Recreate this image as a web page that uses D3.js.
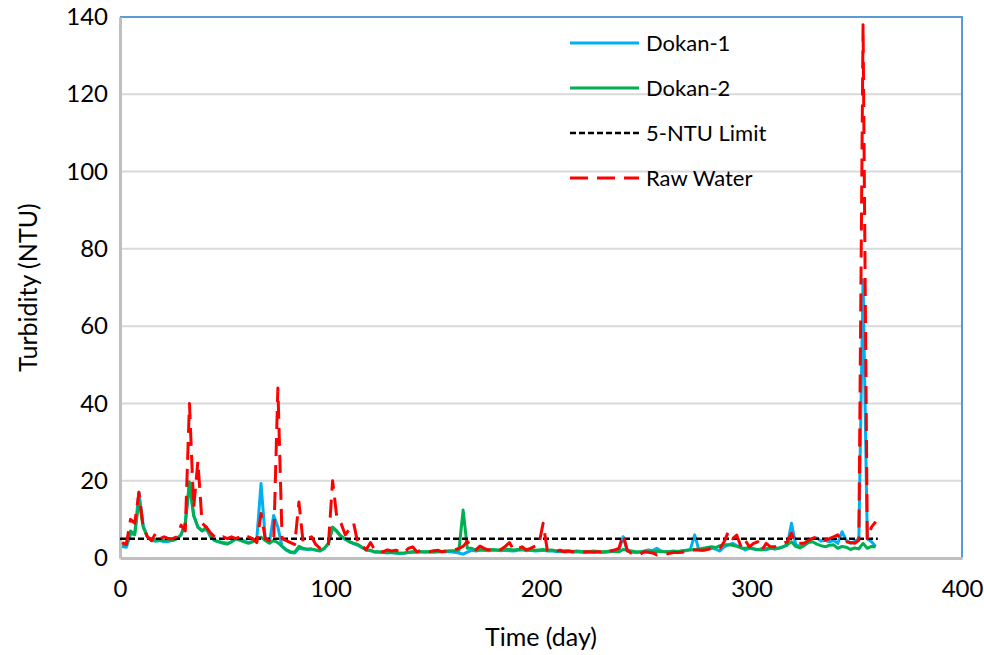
<!DOCTYPE html>
<html>
<head>
<meta charset="utf-8">
<script src="https://cdn.jsdelivr.net/npm/d3@7"></script>
<style>
  body { margin: 0; background: #fff; }
  svg { font-family: Lato, "Open Sans", sans-serif; }
</style>
</head>
<body>
<div id="chart"></div>
<script>
// sampled every second day, day 1 .. 359
const days = d3.range(1, 360, 2);

const dokan1 = [
  3, 2.8, 6, 6.5, 17, 8.5, 5.5, 4.5, 4.3, 4.5,
  4.2, 4.3, 4.5, 5, 6, 9, 19, 11, 8, 7,
  7.5, 5.5, 4.5, 4.2, 4, 3.8, 4.2, 5, 4.8, 4.4,
  4, 4.3, 5, 19.3, 5, 4, 11, 8, 3, 2,
  1.4, 1.3, 2.5, 2.3, 2.2, 2.3, 2, 1.8, 2.4, 3.6,
  7.8, 6.8, 5.5, 4.8, 4.2, 3.7, 3.3, 2.7, 2, 1.9,
  1.5, 1.5, 1.4, 1.3, 1.4, 1.3, 1.2, 1.2, 1.4, 1.5,
  1.5, 1.6, 1.5, 1.6, 1.5, 1.6, 1.6, 1.7, 1.6, 1.5,
  1.3, 1, 1.5, 2, 1.8, 2, 2, 1.9, 2, 2,
  1.9, 2, 1.9, 1.8, 2, 2.1, 1.9, 2, 1.8, 1.9,
  2, 1.8, 1.9, 1.7, 1.6, 1.7, 1.6, 1.5, 1.6, 1.5,
  1.4, 1.5, 1.6, 1.5, 1.4, 1.5, 1.6, 1.8, 2, 5.5,
  1.8, 1.5, 1.4, 1.5, 1.8, 2.1, 1.9, 2.5, 1.8, 1.6,
  1.6, 1.7, 1.6, 1.8, 1.9, 2.3, 6, 2.1, 2, 2.3,
  2.5, 2.3, 1.8, 2.9, 3.4, 3.8, 3.2, 2.8, 2.1, 2.5,
  2.3, 2.1, 2.5, 2.1, 2.5, 2.3, 2.6, 2.9, 3.3, 9,
  3.4, 3, 3.5, 4.6, 5, 5.2, 4.4, 4.6, 4.2, 4.5,
  3.8, 6.8, 4.6, 3.8, 4.3, 5, 72, 5, 4.2, 3
];

const dokan2 = [
  3.4, 3.5, 7, 6, 15, 8, 5.5, 4.6, 4.8, 4.6,
  4.6, 4.8, 4.6, 5, 6, 9, 19.7, 11, 8, 7,
  8, 5.7, 4.5, 4.2, 3.8, 3.6, 4.2, 5, 4.6, 4.2,
  3.8, 4.2, 5, 5.4, 4.5, 3.8, 4.5, 4, 3, 2.2,
  1.6, 1.5, 3, 2.5, 2.3, 2.3, 2.1, 1.9, 2.5, 3.8,
  8, 7, 5.7, 5, 4.2, 3.8, 3.5, 2.8, 2.1, 2,
  1.6, 1.6, 1.5, 1.4, 1.4, 1.3, 1.2, 1.3, 1.5, 1.6,
  1.6, 1.6, 1.6, 1.7, 1.6, 1.6, 1.7, 1.8, 1.9, 1.9,
  2, 12.4, 2.5, 2.5, 2.1, 2.2, 2.1, 2.1, 2.2, 2.1,
  2.1, 2.3, 2.2, 2.1, 2.2, 2.3, 2.1, 2.2, 2, 2.1,
  2.2, 2, 2.1, 1.9, 1.8, 1.9, 1.8, 1.7, 1.8, 1.7,
  1.6, 1.7, 1.8, 1.7, 1.6, 1.7, 1.8, 1.7, 1.6, 2.2,
  2, 1.8, 1.6, 1.6, 1.6, 1.6, 1.6, 1.7, 1.7, 1.6,
  1.7, 1.8, 1.7, 1.9, 2, 2.1, 2.2, 2.3, 2.5, 2.7,
  2.9, 2.7, 3.2, 3.4, 3.4, 3.3, 3, 2.6, 2.5, 2.8,
  2.4, 2.2, 2.1, 2.4, 2.6, 2.4, 2.5, 2.9, 3.5, 4.2,
  3, 2.6, 3.2, 4, 4.2, 3.6, 3.2, 2.9, 3.3, 3.4,
  2.5, 3, 2.8, 2.2, 2.6, 2.4, 3.8, 2.5, 3, 2.9
];

const rawWater = [
  4, 3.5, 10, 9, 17, 8, 5.5, 4.5, 6.5, 5,
  5.5, 5, 5, 5.5, 8.5, 7, 40, 13, 25, 9,
  8, 6.5, 5.5, 5, 5.5, 5, 5.5, 5, 5.5, 5,
  5.5, 5, 4, 11.5, 5, 4.5, 4, 44, 5, 4.5,
  4, 3.5, 14.5, 4, 5, 5.5, 3.5, 2.5, 2.5, 3.5,
  20, 10.5, 9, 6, 7.5, 9, 3.8, 3, 2.2, 4,
  2.1, 2, 1.6, 2.1, 1.8, 2, 1.7, 1.3, 2.5, 2.9,
  1.6, 2, 1.7, 1.6, 1.9, 2, 1.6, 1.8, 2.1, 2.1,
  2.5, 3, 4.3, 2.5, 2.1, 3.1, 2.5, 2.1, 2.3, 2,
  2.2, 3, 4, 2.1, 2.5, 2.9, 2.1, 2.5, 3, 3.4,
  9, 2, 2, 1.7, 2, 1.6, 1.8, 1.7, 1.4, 1.5,
  1.6, 1.6, 1.5, 1.6, 1.6, 1.4, 1.8, 2.1, 2.5, 6,
  2, 1.2, 1.1, 1, 1.6, 1.5, 1.3, 0.8, 0.9, 1,
  1.2, 1.4, 1.4, 1.5, 1.7, 2.1, 2.1, 2.1, 2, 2.2,
  2.5, 2.2, 2.5, 4.2, 6.8, 5, 5.9, 2.9, 4.6, 2.9,
  3.8, 4.2, 2.1, 3.8, 2.9, 2.9, 3.5, 3.8, 4.2, 6.4,
  3.8, 3.8, 3.8, 4.5, 5.1, 5.5, 4.8, 4.6, 5, 5.5,
  6, 4.2, 4.2, 4, 3.8, 4.6, 138, 5, 8, 9.4
];

const limitDays = [0, 360];
const limitValue = 5;

const xTicks = [0, 100, 200, 300, 400];
const yTicks = [0, 20, 40, 60, 80, 100, 120, 140];

const series = [
  { name: "Dokan-1", values: dokan1, color: "#00b0f0", dash: null },
  { name: "Dokan-2", values: dokan2, color: "#00b050", dash: null },
  { name: "5-NTU Limit", values: null, color: "#000000", dash: "6,3" },
  { name: "Raw Water", values: rawWater, color: "#ff0000", dash: "18,9" }
];

function createChart(containerId) {
  const width = 984;
  const height = 655;
  const margin = { top: 17, right: 22, bottom: 97, left: 120 };

  const x = d3
    .scaleLinear()
    .domain([0, 400])
    .range([margin.left, width - margin.right]);

  const y = d3
    .scaleLinear()
    .domain([0, 140])
    .range([height - margin.bottom, margin.top]);

  const svg = d3
    .select("#" + containerId)
    .append("svg")
    .attr("width", width)
    .attr("height", height);

  // gridlines
  svg
    .append("g")
    .selectAll("line")
    .data(yTicks.slice(1, -1))
    .join("line")
    .attr("x1", margin.left)
    .attr("x2", width - margin.right)
    .attr("y1", (d) => y(d))
    .attr("y2", (d) => y(d))
    .attr("stroke", "#d9d9d9")
    .attr("stroke-width", 2);

  // top and right frame
  svg
    .append("path")
    .attr(
      "d",
      `M${margin.left},${margin.top}H${width - margin.right}V${height - margin.bottom}`
    )
    .attr("fill", "none")
    .attr("stroke", "#5b9bd5")
    .attr("stroke-width", 2);

  const gX = svg
    .append("g")
    .attr("transform", `translate(0,${height - margin.bottom})`)
    .call(d3.axisBottom(x).tickValues(xTicks).tickSize(0).tickPadding(22));

  const gY = svg
    .append("g")
    .attr("transform", `translate(${margin.left},0)`)
    .call(d3.axisLeft(y).tickValues(yTicks).tickSize(0).tickPadding(12));

  [gX, gY].forEach((g) => {
    g.select(".domain").attr("stroke", "#bfbfbf").attr("stroke-width", 3);
    g.selectAll("text")
      .attr("fill", "#000")
      .style("font-size", "24px")
      .style("font-family", "Lato, sans-serif");
  });

  svg
    .append("text")
    .attr("x", (margin.left + width - margin.right) / 2)
    .attr("y", 646)
    .attr("text-anchor", "middle")
    .style("font-size", "25px")
    .text("Time (day)");

  svg
    .append("text")
    .attr("transform", `translate(37,${(margin.top + height - margin.bottom) / 2}) rotate(-90)`)
    .attr("text-anchor", "middle")
    .style("font-size", "25px")
    .text("Turbidity (NTU)");

  const line = d3
    .line()
    .x((d) => x(d[0]))
    .y((d) => y(d[1]));

  series.forEach((s) => {
    const pts = s.values
      ? days.map((d, i) => [d, s.values[i]])
      : limitDays.map((d) => [d, limitValue]);
    svg
      .append("path")
      .datum(pts)
      .attr("d", line)
      .attr("fill", "none")
      .attr("stroke", s.color)
      .attr("stroke-width", s.values ? 3 : 2.5)
      .attr("stroke-linejoin", "round")
      .attr("stroke-dasharray", s.dash);
  });

  // legend
  const legend = svg
    .append("g")
    .selectAll("g")
    .data(series)
    .join("g")
    .attr("transform", (d, i) => `translate(570,${43 + i * 45})`);

  legend
    .append("line")
    .attr("x1", 0)
    .attr("x2", 69)
    .attr("stroke", (d) => d.color)
    .attr("stroke-width", (d) => (d.values ? 3 : 2.5))
    .attr("stroke-dasharray", (d) => d.dash);

  legend
    .append("text")
    .attr("x", 76)
    .attr("dy", "0.35em")
    .style("font-size", "22px")
    .text((d) => d.name);
}

createChart("chart");
</script>
</body>
</html>
